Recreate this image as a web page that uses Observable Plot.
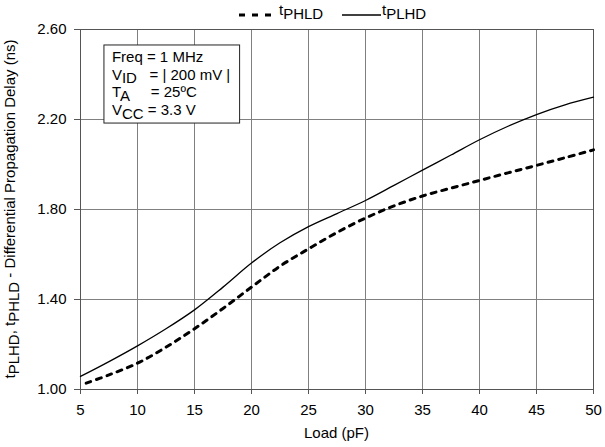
<!DOCTYPE html>
<html><head><meta charset="utf-8">
<script src="https://cdn.jsdelivr.net/npm/d3@7"></script>
<script src="https://cdn.jsdelivr.net/npm/@observablehq/plot@0.6"></script>
<style>
body{margin:0;background:#fff;}
svg text{font-family:"Liberation Sans",Arial,sans-serif;}
</style></head><body><div id="chart"></div>
<script>
// Data
const loadPLHD = [5, 7.5, 10, 12.5, 15, 17.5, 20, 22.5, 25, 27.5, 30, 32.5, 35, 37.5, 40, 42.5, 45, 47.5, 50];
const tPLHD    = [1.058, 1.124, 1.194, 1.27, 1.354, 1.455, 1.562, 1.652, 1.724, 1.782, 1.84, 1.907, 1.975, 2.042, 2.11, 2.17, 2.222, 2.265, 2.299];
const loadPHLD = [5.5, 7.5, 10, 12.5, 15, 17.5, 20, 22.5, 25, 27.5, 30, 32.5, 35, 37.5, 40, 42.5, 45, 47.5, 50];
const tPHLD    = [1.028, 1.065, 1.117, 1.188, 1.27, 1.36, 1.455, 1.548, 1.625, 1.698, 1.762, 1.816, 1.86, 1.895, 1.929, 1.963, 1.996, 2.03, 2.065];
const xTicks = [5, 10, 15, 20, 25, 30, 35, 40, 45, 50];
const yTicks = [1.0, 1.4, 1.8, 2.2, 2.6];
const xLabel = "Load (pF)";
const yLabelParts = [["t", false], ["PLHD", true], [", t", false], ["PHLD", true], [" - Differential Propagation Delay (ns)", false]];
const legendSubs = ["PHLD", "PLHD"];
const boxLines = [
  [["Freq = 1 MHz", false]],
  [["V", false], ["ID", true], ["\u00A0\u00A0\u00A0= | 200 mV |", false]],
  [["T", false], ["A", true], ["\u00A0\u00A0\u00A0\u00A0\u00A0= 25ºC", false]],
  [["V", false], ["CC", true], ["\u00A0= 3.3 V", false]]
];
const boxExtent = {x1: 7.1, x2: 19.0, y1: 2.182, y2: 2.529};

const plhd = loadPLHD.map((x, i) => ({x, y: tPLHD[i]}));
const phld = loadPHLD.map((x, i) => ({x, y: tPHLD[i]}));

const plot = Plot.plot({
  width: 605, height: 447,
  marginTop: 29, marginLeft: 80, marginRight: 12, marginBottom: 58,
  style: {fontFamily: "Liberation Sans, Arial, sans-serif", fontSize: "15px", color: "#000", background: "#fff"},
  x: {domain: [5, 50]},
  y: {domain: [1, 2.6]},
  marks: [
    Plot.gridX(xTicks, {stroke: "#808080", strokeOpacity: 1, strokeWidth: 1}),
    Plot.gridY(yTicks, {stroke: "#808080", strokeOpacity: 1, strokeWidth: 1}),
    Plot.axisX({ticks: xTicks, tickSize: 5, tickPadding: 10, stroke: "#555", label: null}),
    Plot.axisY({ticks: yTicks, tickFormat: d => d.toFixed(2), tickSize: 6, tickPadding: 8, stroke: "#555", label: null}),
    Plot.frame({stroke: "#555", strokeWidth: 1}),
    Plot.line(phld, {x: "x", y: "y", stroke: "#000", strokeWidth: 3, strokeDasharray: "5,6", curve: "catmull-rom"}),
    Plot.line(plhd, {x: "x", y: "y", stroke: "#000", strokeWidth: 1.3, curve: "catmull-rom"})
  ]
});
document.getElementById("chart").appendChild(plot);

const svg = d3.select(plot);
const xs = plot.scale("x"), ys = plot.scale("y");

function addParts(textSel, parts, shift) {
  let down = false;
  parts.forEach(([s, sub]) => {
    const t = textSel.append("tspan").text(s);
    if (sub && !down) { t.attr("dy", shift); down = true; }
    else if (!sub && down) { t.attr("dy", -shift); down = false; }
  });
}

// X label
svg.append("text").attr("x", (xs.apply(5) + xs.apply(50)) / 2).attr("y", 438)
  .attr("text-anchor", "middle").attr("font-size", 15).text(xLabel);

// Y label
const yl = svg.append("text")
  .attr("transform", `translate(15,${(ys.apply(1) + ys.apply(2.6)) / 2}) rotate(-90)`)
  .attr("text-anchor", "middle").attr("font-size", 15);
addParts(yl, yLabelParts, 4);

// Legend
const lg = svg.append("g");
lg.append("line").attr("x1", 239).attr("x2", 275).attr("y1", 15).attr("y2", 15)
  .attr("stroke", "#000").attr("stroke-width", 3).attr("stroke-dasharray", "6,7");
const lt1 = lg.append("text").attr("x", 279).attr("y", 15).attr("font-size", 15).attr("text-anchor", "start");
addParts(lt1, [["t", false], [legendSubs[0], true]], 4);
lg.append("line").attr("x1", 342).attr("x2", 381).attr("y1", 15).attr("y2", 15)
  .attr("stroke", "#000").attr("stroke-width", 1.3);
const lt2 = lg.append("text").attr("x", 382).attr("y", 15).attr("font-size", 15).attr("text-anchor", "start");
addParts(lt2, [["t", false], [legendSubs[1], true]], 4);

// Annotation box
const bx = xs.apply(boxExtent.x1), bx2 = xs.apply(boxExtent.x2);
const by = ys.apply(boxExtent.y2), by2 = ys.apply(boxExtent.y1);
svg.append("rect").attr("x", bx).attr("y", by).attr("width", bx2 - bx).attr("height", by2 - by)
  .attr("fill", "#fff").attr("stroke", "#222").attr("stroke-width", 1);
boxLines.forEach((parts, i) => {
  const t = svg.append("text").attr("x", bx + 8).attr("y", by + 17 + i * 17.7)
    .attr("font-size", 15).attr("text-anchor", "start");
  addParts(t, parts, 3.5);
});
</script></body></html>
